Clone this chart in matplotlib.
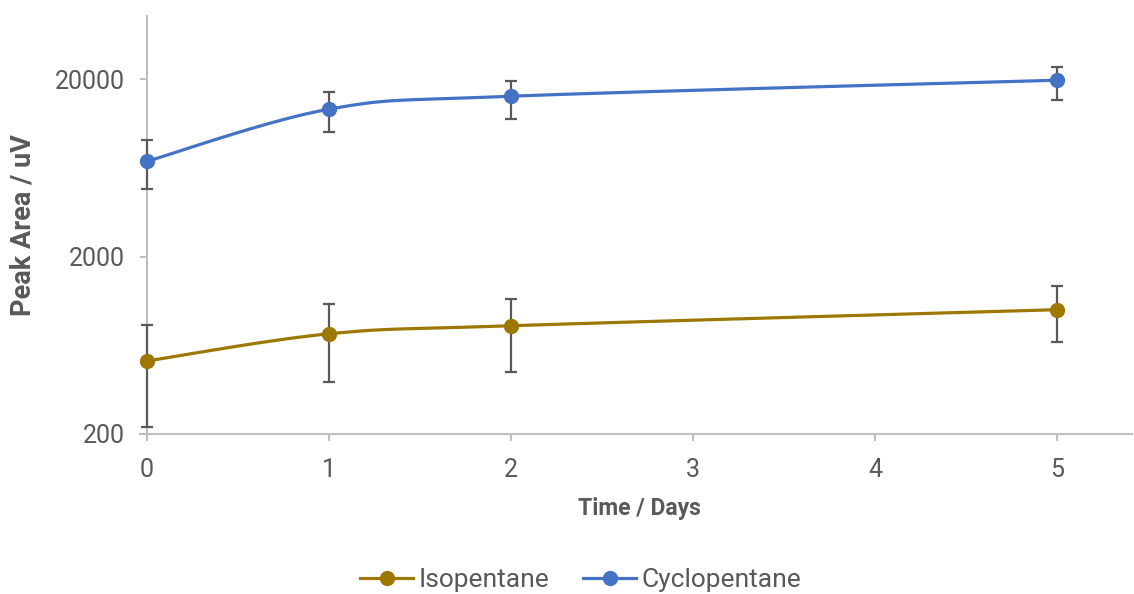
import numpy as np
import matplotlib
matplotlib.use('Agg')
import matplotlib.pyplot as plt
from matplotlib.lines import Line2D

days = [0, 1, 2, 5]
iso_vals = [516, 734, 815, 1004]
iso_err_lo = [297, 340, 367, 342]
iso_err_hi = [310, 350, 344, 368]
cyc_vals = [6890, 13550, 16030, 19740]
cyc_err_lo = [2110, 3510, 4140, 4540]
cyc_err_hi = [2150, 3350, 3470, 3660]

GOLD = '#9C7800'
BLUE = '#4472C4'
GREY = '#595959'
AXC = '#BFBFBF'

plt.rcParams['font.family'] = ['Roboto', 'DejaVu Sans']


def smooth(x, y, n=40):
    # excel-like bezier smoothing in (x, log y) space
    px = np.asarray(x, float)
    py = np.log10(np.asarray(y, float))
    P = np.column_stack([px, py])
    out = []
    for i in range(len(P) - 1):
        p0 = P[i - 1] if i > 0 else P[i]
        p3 = P[i + 2] if i + 2 < len(P) else P[i + 1]
        c1 = P[i] + (P[i + 1] - p0) / 6
        c2 = P[i + 1] - (p3 - P[i]) / 6
        t = np.linspace(0, 1, n)[:, None]
        seg = ((1 - t) ** 3) * P[i] + 3 * ((1 - t) ** 2) * t * c1 + 3 * (1 - t) * t ** 2 * c2 + t ** 3 * P[i + 1]
        out.append(seg)
    s = np.vstack(out)
    return s[:, 0], 10 ** s[:, 1]


fig = plt.figure(figsize=(11.34, 5.94), dpi=100)
ax = fig.add_axes([0.1296, 0.2694, 0.8684, 0.7036])

for vals, lo, hi, col in [(iso_vals, iso_err_lo, iso_err_hi, GOLD),
                          (cyc_vals, cyc_err_lo, cyc_err_hi, BLUE)]:
    sx, sy = smooth(days, vals)
    ax.plot(sx, sy, color=col, lw=2.3, zorder=4, solid_capstyle='round', clip_on=False)
    eb = ax.errorbar(days, vals, yerr=[lo, hi], fmt='none', ecolor=GREY, elinewidth=1.6,
                     capsize=4.5, capthick=1.6, zorder=3)
    for a in eb.lines[1] + eb.lines[2]:
        a.set_clip_on(False)
    ax.plot(days, vals, 'o', color=col, ms=10, zorder=5, clip_on=False)

ax.set_yscale('log')
ax.set_ylim(200, 45400)
ax.set_xlim(0, 5.41)
ax.set_yticks([200, 2000, 20000])
ax.set_yticklabels(['200', '2000', '20000'])
ax.minorticks_off()
ax.set_xticks([0, 1, 2, 3, 4, 5])

for s in ['top', 'right']:
    ax.spines[s].set_visible(False)
for s in ['left', 'bottom']:
    ax.spines[s].set_color(AXC)
    ax.spines[s].set_linewidth(1.5)
    ax.spines[s].set_zorder(1)
ax.tick_params(axis='both', colors=AXC, labelcolor=GREY, labelsize=18, length=5, width=1.5, direction='out')
ax.tick_params(axis='y', pad=11)
ax.tick_params(axis='x', pad=12)
ax.spines['bottom'].set_bounds(-0.04, 5.41)

ax.set_xlabel('Time / Days', fontsize=16.5, fontweight='bold', color=GREY, labelpad=11)
ax.set_ylabel('Peak Area / uV', fontsize=19.5, fontweight='bold', color=GREY)
ax.yaxis.set_label_coords(-0.112, 0.5)

handles = [Line2D([], [], color=GOLD, lw=2.3, marker='o', ms=10),
           Line2D([], [], color=BLUE, lw=2.3, marker='o', ms=10)]
fig.legend(handles, ['Isopentane', 'Cyclopentane'], loc='center', bbox_to_anchor=(0.512, 0.024),
           ncol=2, frameon=False, fontsize=19, labelcolor=GREY, handlelength=2.0,
           columnspacing=1.3, handletextpad=0.2)

fig.savefig('out.png', dpi=100)
